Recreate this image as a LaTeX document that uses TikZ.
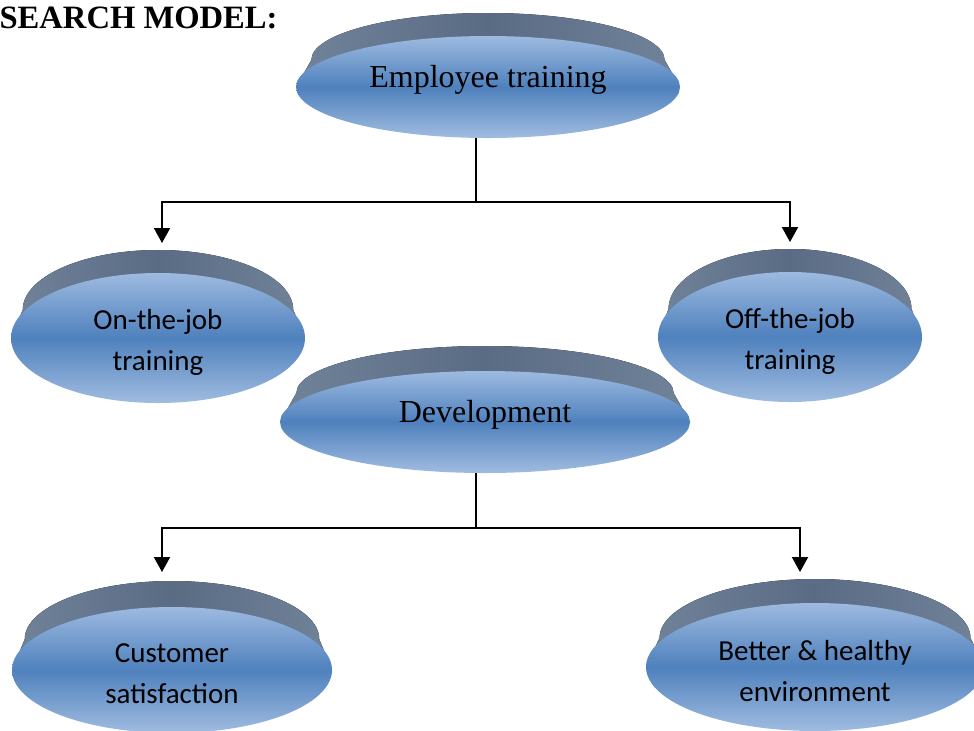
\documentclass[tikz,border=0pt]{standalone}
\usepackage{fontspec}
\setmainfont{Liberation Serif}
\newfontfamily\calibri{Carlito}
\usepackage{tikz}
\usetikzlibrary{shapes.geometric,arrows.meta}
\definecolor{facetop}{HTML}{9DBAE0}
\definecolor{facemid}{HTML}{4F81BD}
\definecolor{facebot}{HTML}{A0BCE0}
\definecolor{bandmid}{HTML}{5A6B84}
\definecolor{bandside}{HTML}{718399}

\tikzset{
  face/.style = {ellipse, inner sep = 0pt, top color = facetop, bottom color = facebot, middle color = facemid},
  band/.style = {left color = bandside, right color = bandside, middle color = bandmid},
  serif/.style = {font = \fontsize{16}{19}\selectfont, text height = 8pt, text depth = 8pt},
  calib/.style = {font = \calibri\fontsize{14.5}{20.5}\selectfont, align = center, yshift = -2pt},
  title/.style = {font = \bfseries\fontsize{16.3}{19}\selectfont, inner sep = 0pt},
  link/.style = {line width = 1pt},
  arrow/.style = {link, -{Triangle[width = 8pt, length = 7.5pt]}}
}

% name, x, y, rx, ry, rim thickness, text style, text
\newcommand{\disc}[8]{
\pgfmathsetmacro{\rimy}{#3-#6-0.08*#5}
\pgfmathsetmacro{\rimrx}{0.92*#4}
\pgfmathsetmacro{\rimry}{0.92*#5}
\fill[band] (#2-#4,#3) -- (#2-\rimrx,\rimy) arc[start angle = 180, end angle = 360, x radius = \rimrx, y radius = \rimry] -- (#2+#4,#3) -- cycle;
\coordinate (#1-top) at (#2,#3-#6-#5);
\node[face, minimum width = #4pt, minimum height = #5pt] (#1) at (#2,#3) {};
\node[inner sep = 0pt, #7] (#1-text) at (#1) {#8};
}

\begin{document}
\begin{tikzpicture}[x = 0.5pt, y = -0.5pt]
\useasboundingbox (0,0) rectangle (974,730);
\clip (0,0) rectangle (974,730);
\node[title, anchor = base east] (heading) at (278,28) {SEARCH MODEL:};
\disc{emp}{488}{87}{192}{51}{23}{serif}{Employee training}
\disc{onjob}{158}{338}{147}{65}{23}{calib}{On-the-job\\training}
\disc{offjob}{790}{337}{132}{65}{23}{calib}{Off-the-job\\training}
\disc{dev}{485}{422}{205}{51}{25}{serif}{Development}
\disc{cust}{172}{670}{160}{63}{26}{calib}{Customer\\satisfaction}
\disc{better}{815}{667}{169}{64}{24}{calib}{Better \& healthy\\environment}
% training split
\draw[link] ([xshift = -6pt]emp.south) -- ++(0,64) coordinate (split1);
\draw[arrow] (split1) -| ([xshift = 2pt, yshift = 3.5pt]onjob-top);
\draw[arrow] (split1) -| ([yshift = 3.5pt]offjob-top);
% development split
\draw[link] ([xshift = -4.5pt]dev.south) -- ++(0,55) coordinate (split2);
\draw[arrow] (split2) -| ([xshift = -5pt, yshift = 4.5pt]cust-top);
\draw[arrow] (split2) -| ([xshift = -7.5pt, yshift = 3.5pt]better-top);
\end{tikzpicture}
\end{document}
